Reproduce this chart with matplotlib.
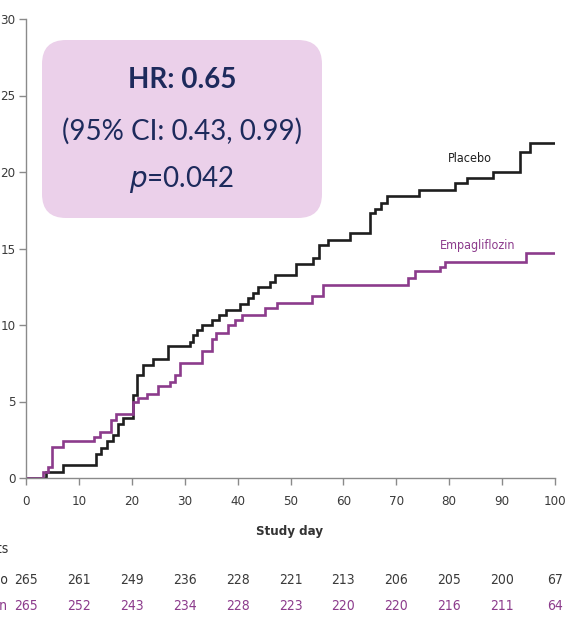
import matplotlib
matplotlib.use("Agg")
import matplotlib.pyplot as plt
from matplotlib.patches import FancyBboxPatch
from matplotlib.transforms import IdentityTransform

# Kaplan-Meier style cumulative incidence (%), step curves
placebo_days = [0, 3.8, 6.9, 13.2, 14.2, 15.4, 16.4, 17.3, 18.3, 20.2, 20.9, 22.2, 24.0,
                26.8, 31.0, 31.6, 32.3, 33.2, 35.1, 36.4, 37.9, 40.5, 42.0, 43.0, 43.9,
                46.1, 47.1, 51.0, 54.3, 55.3, 57.1, 61.2, 65.0, 66.0, 67.2, 68.2, 74.2,
                81.1, 83.3, 88.3, 93.4, 95.3, 100]
placebo_pct = [0, 0.4, 0.85, 1.6, 1.95, 2.4, 2.8, 3.5, 3.9, 5.4, 6.7, 7.4, 7.8,
               8.6, 8.9, 9.35, 9.7, 10.0, 10.3, 10.65, 11.0, 11.4, 11.75, 12.1, 12.5,
               12.8, 13.3, 14.0, 14.4, 15.2, 15.55, 16.0, 17.3, 17.6, 18.0, 18.4, 18.8,
               19.3, 19.6, 20.0, 21.3, 21.9, 21.9]

empa_days = [0, 3.2, 4.1, 5.0, 6.9, 12.9, 13.9, 16.1, 17.0, 20.2, 21.2, 22.8, 25.0,
             27.2, 28.2, 29.1, 33.2, 35.1, 36.0, 38.2, 39.5, 40.8, 45.2, 47.4, 54.0,
             56.1, 72.3, 73.5, 78.3, 79.2, 94.6, 100]
empa_pct = [0, 0.4, 0.75, 2.0, 2.4, 2.7, 3.0, 3.8, 4.2, 5.0, 5.2, 5.5, 6.0,
            6.3, 6.7, 7.5, 8.3, 9.1, 9.5, 10.0, 10.3, 10.65, 11.1, 11.45, 11.9,
            12.6, 13.1, 13.5, 13.8, 14.1, 14.7, 14.7]

risk_days = [0, 10, 20, 30, 40, 50, 60, 70, 80, 90, 100]
placebo_risk = [265, 261, 249, 236, 228, 221, 213, 206, 205, 200, 67]
empa_risk = [265, 252, 243, 234, 228, 223, 220, 220, 216, 211, 64]

hr_lines = ["HR: 0.65", "(95% CI: 0.43, 0.99)", "$\\it{p}$=0.042"]

BLACK = "#1e1e1e"
PURPLE = "#8c3b8c"
AXIS = "#8a8a8a"
NAVY = "#1d2a5c"
SMALL = dict(family="DejaVu Sans", stretch="condensed")

W, H = 568, 619
fig = plt.figure(figsize=(W / 100, H / 100), dpi=100)
ax = fig.add_axes([26 / W, 1 - 478 / H, (555 - 26) / W, (478 - 19) / H])

ax.step(placebo_days, placebo_pct, where="post", color=BLACK, lw=1.9, solid_joinstyle="miter")
ax.step(empa_days, empa_pct, where="post", color=PURPLE, lw=1.9, solid_joinstyle="miter")

ax.set_xlim(0, 100)
ax.set_ylim(0, 30)
ax.set_xticks(risk_days)
ax.set_yticks(range(0, 31, 5))
for s in ["top", "right"]:
    ax.spines[s].set_visible(False)
for s in ["left", "bottom"]:
    ax.spines[s].set_color(AXIS)
    ax.spines[s].set_linewidth(1.0)
ax.tick_params(colors=AXIS, length=5, width=1.0, labelcolor="#3a3a3a", labelsize=9.5)
ax.tick_params(axis="x", pad=7)
ax.tick_params(axis="y", pad=2.5)
for lab in ax.get_xticklabels() + ax.get_yticklabels():
    lab.set_family(SMALL["family"])
    lab.set_stretch(SMALL["stretch"])

ax.text(84, 20.9, "Placebo", color=BLACK, fontsize=9, ha="center", va="center", **SMALL)
ax.text(85.4, 15.2, "Empagliflozin", color=PURPLE, fontsize=9, ha="center", va="center", **SMALL)

# Study day label and number at risk table
fig.text(290 / W, 1 - 532 / H, "Study day", ha="center", va="center",
         fontsize=9.5, fontweight="bold", color="#333333", **SMALL)
fig.text(8 / W, 1 - 549 / H, "Number of patients", ha="right", va="center",
         fontsize=10, color="#333333", **SMALL)
fig.text(9 / W, 1 - 580 / H, "Placebo", ha="right", va="center",
         fontsize=10, color="#333333", **SMALL)
fig.text(8 / W, 1 - 606 / H, "Empagliflozin", ha="right", va="center",
         fontsize=10, color=PURPLE, **SMALL)
for d, p, e in zip(risk_days, placebo_risk, empa_risk):
    xf = (26 + d * (555 - 26) / 100) / W
    fig.text(xf, 1 - 580 / H, str(p), ha="center", va="center",
             fontsize=10, color="#3a3a3a", **SMALL)
    fig.text(xf, 1 - 606 / H, str(e), ha="center", va="center",
             fontsize=10, color=PURPLE, **SMALL)

# Hazard ratio box
box = FancyBboxPatch((42, H - 218), 280, 178, boxstyle="round,pad=0,rounding_size=24",
                     transform=IdentityTransform(), facecolor="#ebd0ea", edgecolor="none")
fig.add_artist(box)
cx = 182 / W
fig.text(cx, 1 - 80 / H, hr_lines[0], ha="center", va="center", fontsize=20,
         fontweight="bold", color=NAVY, family="Lato")
fig.text(cx, 1 - 131 / H, hr_lines[1], ha="center", va="center", fontsize=20,
         color=NAVY, family="Lato")
fig.text(cx, 1 - 180 / H, hr_lines[2], ha="center", va="center", fontsize=20,
         color=NAVY, family="Lato")

fig.savefig("out.png", dpi=100)
